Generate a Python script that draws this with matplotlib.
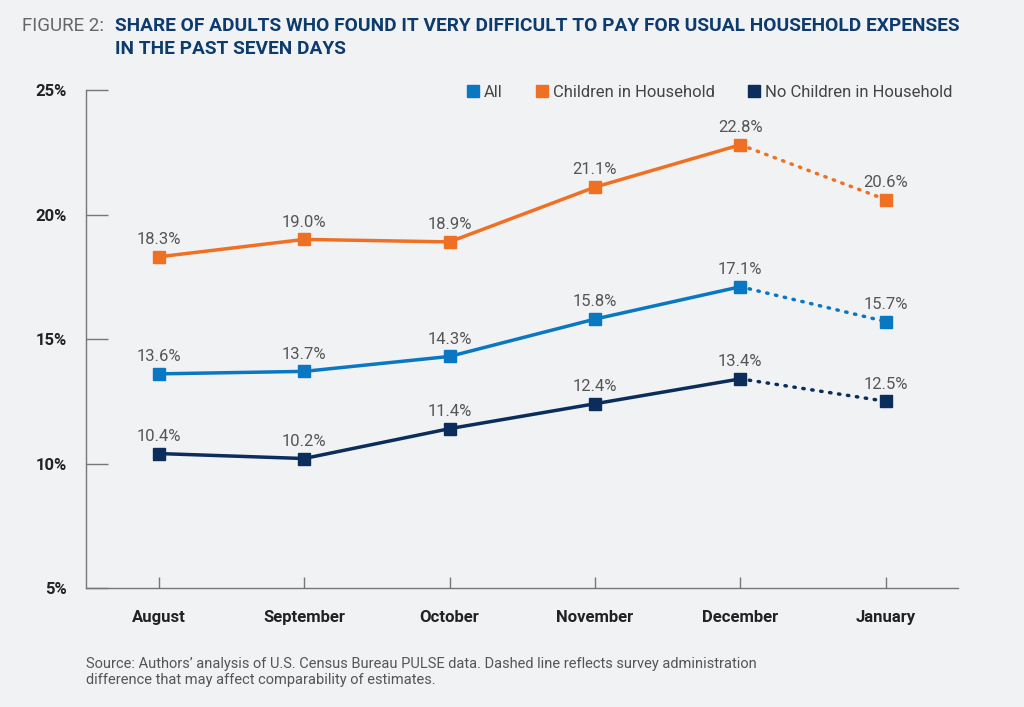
import matplotlib.pyplot as plt

months = ["August", "September", "October", "November", "December", "January"]
all_adults = [13.6, 13.7, 14.3, 15.8, 17.1, 15.7]
children = [18.3, 19.0, 18.9, 21.1, 22.8, 20.6]
no_children = [10.4, 10.2, 11.4, 12.4, 13.4, 12.5]

series = [
    ("All", all_adults, "#0a77c2"),
    ("Children in Household", children, "#f07023"),
    ("No Children in Household", no_children, "#0b2d5b"),
]

plt.rcParams["font.family"] = ["Roboto", "DejaVu Sans"]
bg = "#f1f2f4"

fig = plt.figure(figsize=(10.24, 7.07), dpi=100, facecolor=bg)
ax = fig.add_axes([0.084, 0.1683, 0.852, 0.7044], facecolor=bg)

x = list(range(len(months)))
for name, vals, col in series:
    ax.plot(x[:5], vals[:5], color=col, lw=2.5, solid_capstyle="butt")
    ax.plot(x[4:], vals[4:], color=col, lw=2.5, linestyle=(0, (0.4, 2.2)),
            dash_capstyle="round")
    ax.plot(x, vals, linestyle="none", marker="s", ms=8, color=col, label=name)
    for xi, v in zip(x, vals):
        ax.annotate(f"{v:.1f}%", (xi, v), xytext=(0, 7), textcoords="offset points",
                    ha="center", va="bottom", fontsize=12, color="#555555")

ax.set_xlim(-0.5, 5.5)
ax.set_ylim(5, 25)
ax.set_xticks(x)
ax.set_xticklabels(months, fontsize=12, fontweight="bold", color="#222222")
ax.set_yticks([5, 10, 15, 20, 25])
ax.set_yticklabels(["5%", "10%", "15%", "20%", "25%"], fontsize=12,
                   fontweight="bold", color="#222222")
ax.tick_params(axis="x", direction="in", length=8, width=1, color="#777777", pad=16)
ax.tick_params(axis="y", direction="in", length=16, width=1, color="#777777", pad=14)
for s in ["top", "right"]:
    ax.spines[s].set_visible(False)
for s in ["left", "bottom"]:
    ax.spines[s].set_color("#777777")
    ax.spines[s].set_linewidth(1)

ax.legend(loc="upper right", bbox_to_anchor=(1.01, 1.04), ncol=3, frameon=False,
          fontsize=12, handlelength=0.7, handletextpad=0.3, columnspacing=2.0,
          labelcolor="#444444")

fig.text(0.021, 0.963, "FIGURE 2:", fontsize=13.5, color="#666666", va="center")
fig.text(0.112, 0.963, "SHARE OF ADULTS WHO FOUND IT VERY DIFFICULT TO PAY FOR USUAL HOUSEHOLD EXPENSES",
         fontsize=13.8, color="#0d3b6e", fontweight="bold", va="center")
fig.text(0.112, 0.931, "IN THE PAST SEVEN DAYS",
         fontsize=13.8, color="#0d3b6e", fontweight="bold", va="center")

fig.text(0.084, 0.05, "Source: Authors\u2019 analysis of U.S. Census Bureau PULSE data. Dashed line reflects survey administration\n"
         "difference that may affect comparability of estimates.",
         fontsize=10.5, color="#555555", va="center", linespacing=1.2)

fig.savefig("out.png", dpi=100, facecolor=bg)
